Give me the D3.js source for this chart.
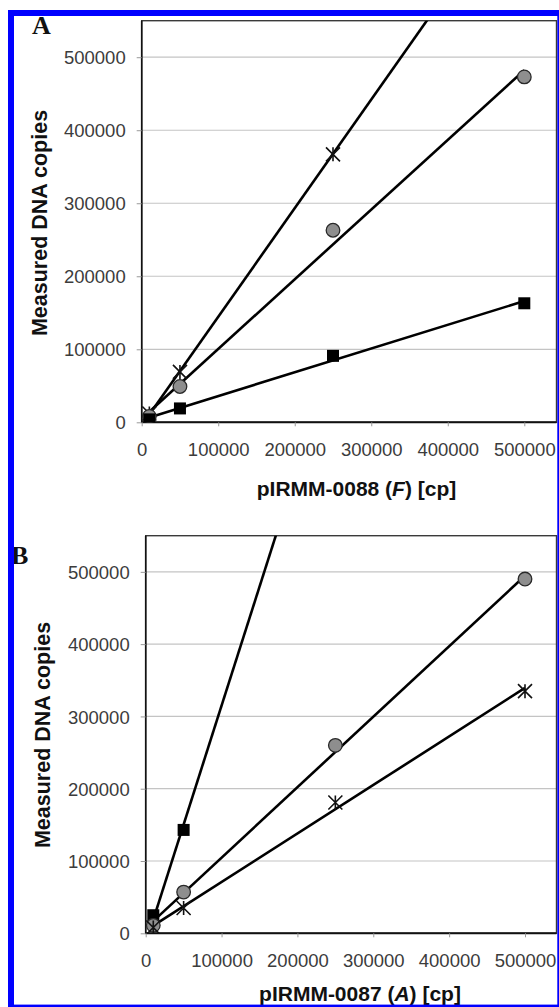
<!DOCTYPE html>
<html>
<head>
<meta charset="utf-8">
<script src="https://cdn.jsdelivr.net/npm/d3@7"></script>
<style>
  html, body { margin: 0; padding: 0; background: #fff; }
  svg { display: block; }
</style>
</head>
<body>
<svg id="chart" width="559" height="1007"></svg>
<script>
// ---------- data ----------
const xValues = [10000, 50000, 250000, 500000];
const xTicks = [0, 100000, 200000, 300000, 400000, 500000];
const yTicks = [0, 100000, 200000, 300000, 400000, 500000];

// Panel A (pIRMM-0088, F)
const aStar   = [12000, 69000, 367000, 740000];
const aCircle = [8000, 49000, 263000, 473000];
const aSquare = [4000, 19000, 91000, 163000];

// Panel B (pIRMM-0087, A)
const bSquare = [25000, 143000, 810000, 1630000];
const bCircle = [11000, 57000, 260000, 490000];
const bStar   = [8000, 35000, 181000, 335000];

const panelLetters = ["A", "B"];
const yTitle = "Measured DNA copies";
const xTitleParts = [["pIRMM-0088 (", "F", ") [cp]"], ["pIRMM-0087 (", "A", ") [cp]"]];

// ---------- layout ----------
const svg = d3.select("#chart");
const FONT = "'Liberation Sans', Arial, Helvetica, sans-serif";

const panels = [
  { letter: panelLetters[0], left: 141.7, top: 20.7, bottom: 422.3, right: 556.5,
    xPer: 76.52, titleParts: xTitleParts[0],
    series: [{ type: "star", y: aStar }, { type: "circle", y: aCircle }, { type: "square", y: aSquare }],
    letterPos: [32, 34], yTitlePos: [46.5, 223], xTitlePos: [356.5, 496] },
  { letter: panelLetters[1], left: 145.7, top: 535.7, bottom: 933.3, right: 556.5,
    xPer: 75.86, titleParts: xTitleParts[1],
    series: [{ type: "square", y: bSquare }, { type: "circle", y: bCircle }, { type: "star", y: bStar }],
    letterPos: [11, 564], yTitlePos: [50, 735], xTitlePos: [360, 1001] }
];

function regression(xs, ys) {
  const mx = d3.mean(xs), my = d3.mean(ys);
  let sxy = 0, sxx = 0;
  xs.forEach((x, i) => { sxy += (x - mx) * (ys[i] - my); sxx += (x - mx) * (x - mx); });
  const slope = sxy / sxx;
  return { slope, intercept: my - slope * mx };
}

panels.forEach((p, pi) => {
  const g = svg.append("g");
  const x = d3.scaleLinear().domain([0, 550000]).range([p.left, p.left + p.xPer * 5.5]);
  const y = d3.scaleLinear().domain([0, 550000]).range([p.bottom, p.top]);

  const clipId = "clip" + pi;
  svg.append("clipPath").attr("id", clipId).append("rect")
    .attr("x", p.left).attr("y", p.top)
    .attr("width", p.right - p.left).attr("height", p.bottom - p.top);

  // plot background
  g.append("rect").attr("x", p.left).attr("y", p.top)
    .attr("width", p.right - p.left).attr("height", p.bottom - p.top)
    .attr("fill", "#fff");

  // gridlines
  g.append("g").selectAll("line").data(yTicks.filter(d => d > 0)).join("line")
    .attr("x1", p.left).attr("x2", p.right)
    .attr("y1", d => y(d)).attr("y2", d => y(d))
    .attr("stroke", "#c4c4c4").attr("stroke-width", 1.2);

  // plot border
  g.append("rect").attr("x", p.left).attr("y", p.top)
    .attr("width", p.right - p.left).attr("height", p.bottom - p.top)
    .attr("fill", "none").attr("stroke", "#3a3a3a").attr("stroke-width", 1.4);

  // y axis
  const yAxis = d3.axisLeft(y).tickValues(yTicks).tickSize(5).tickPadding(11).tickFormat(d3.format("d"));
  const ya = g.append("g").attr("transform", `translate(${p.left},0)`).call(yAxis);
  ya.select(".domain").attr("stroke", "#111").attr("stroke-width", 1.6)
    .attr("d", `M0,${p.top}V${p.bottom}`);
  ya.selectAll(".tick line").attr("stroke", "#999").attr("stroke-width", 1);
  ya.selectAll(".tick text").attr("font-family", FONT).attr("font-size", 18.5)
    .attr("fill", "#3c3c3c").attr("dy", "0.36em");

  // x axis
  const xAxis = d3.axisBottom(x).tickValues(xTicks).tickSize(4).tickPadding(0).tickFormat(d3.format("d"));
  const xa = g.append("g").attr("transform", `translate(0,${p.bottom})`).call(xAxis);
  xa.select(".domain").attr("stroke", "#111").attr("stroke-width", 2)
    .attr("d", `M${p.left},0H${p.right}`);
  xa.selectAll(".tick line").attr("stroke", "#999").attr("stroke-width", 1);
  xa.selectAll(".tick text").attr("font-family", FONT).attr("font-size", 18.5)
    .attr("fill", "#3c3c3c").attr("y", 26.7).attr("dy", "0.36em");

  // trend lines
  const lines = g.append("g").attr("clip-path", `url(#${clipId})`);
  p.series.forEach(s => {
    const r = regression(xValues, s.y);
    const x0 = d3.min(xValues), x1 = d3.max(xValues);
    lines.append("line")
      .attr("x1", x(x0)).attr("y1", y(r.intercept + r.slope * x0))
      .attr("x2", x(x1)).attr("y2", y(r.intercept + r.slope * x1))
      .attr("stroke", "#000").attr("stroke-width", 2.6);
  });

  // markers
  const marks = g.append("g").attr("clip-path", `url(#${clipId})`);
  p.series.forEach(s => {
    const pts = xValues.map((xv, i) => [xv, s.y[i]]);
    if (s.type === "square") {
      marks.selectAll(null).data(pts).join("rect")
        .attr("x", d => x(d[0]) - 6).attr("y", d => y(d[1]) - 6)
        .attr("width", 12).attr("height", 12).attr("fill", "#000");
    } else if (s.type === "circle") {
      marks.selectAll(null).data(pts).join("circle")
        .attr("cx", d => x(d[0])).attr("cy", d => y(d[1])).attr("r", 6.8)
        .attr("fill", "#8e8e8e").attr("stroke", "#2a2a2a").attr("stroke-width", 1.3);
    } else {
      const sz = 7;
      marks.selectAll(null).data(pts).join("path")
        .attr("transform", d => `translate(${x(d[0])},${y(d[1])})`)
        .attr("d", `M${-sz},${-sz}L${sz},${sz}M${-sz},${sz}L${sz},${-sz}M0,${-sz}V${sz}`)
        .attr("fill", "none").attr("stroke", "#111").attr("stroke-width", 1.6);
    }
  });

  // panel letter
  svg.append("text").attr("x", p.letterPos[0]).attr("y", p.letterPos[1])
    .attr("font-family", "'Liberation Serif', 'Times New Roman', serif")
    .attr("font-weight", "bold").attr("font-size", 26).attr("fill", "#111")
    .text(p.letter);

  // y title
  svg.append("text")
    .attr("transform", `translate(${p.yTitlePos[0]},${p.yTitlePos[1]}) rotate(-90)`)
    .attr("text-anchor", "middle").attr("font-family", FONT)
    .attr("font-weight", "bold").attr("font-size", 21.5).attr("fill", "#111")
    .text(yTitle);

  // x title
  const xt = svg.append("text").attr("x", p.xTitlePos[0]).attr("y", p.xTitlePos[1])
    .attr("text-anchor", "middle").attr("font-family", FONT)
    .attr("font-weight", "bold").attr("font-size", 21).attr("fill", "#111");
  xt.append("tspan").text(p.titleParts[0]);
  xt.append("tspan").attr("font-style", "italic").text(p.titleParts[1]);
  xt.append("tspan").text(p.titleParts[2]);
});

// blue frame
const frame = svg.append("g").attr("fill", "#0000ff");
frame.append("rect").attr("x", 8).attr("y", 10).attr("width", 551).attr("height", 6);
frame.append("rect").attr("x", 8).attr("y", 10).attr("width", 6).attr("height", 997);
frame.append("rect").attr("x", 557.3).attr("y", 10).attr("width", 1.7).attr("height", 997);
frame.append("rect").attr("x", 8).attr("y", 1004.6).attr("width", 551).attr("height", 2.4);
</script>
</body>
</html>
